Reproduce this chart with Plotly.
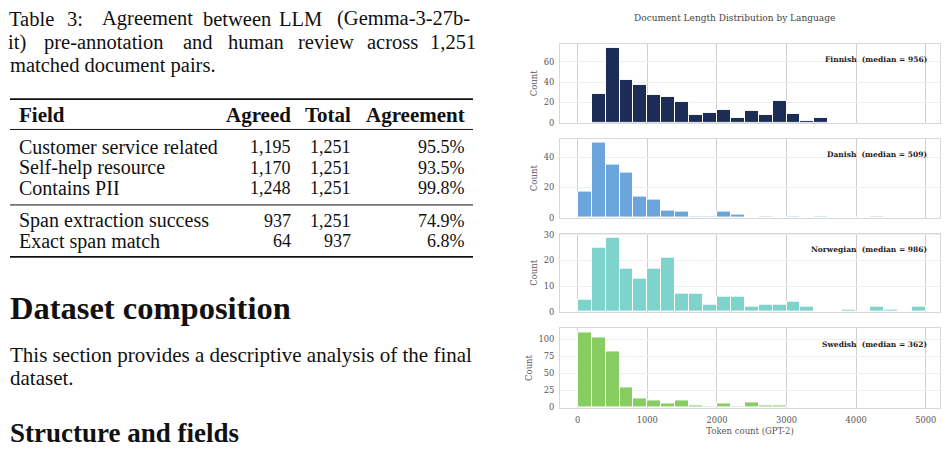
import plotly.graph_objects as go

W, H = 948, 454

# ---------------- data ----------------
languages = ["Finnish", "Danish", "Norwegian", "Swedish"]
medians = [956, 509, 986, 362]
bin_width = 200
finnish_counts = [0, 28, 74, 42, 37, 27, 25, 20, 8, 10, 13, 5, 12, 8, 21, 9, 2, 5]
danish_counts = [17, 50, 35, 30, 14, 12, 5, 4, 1, 1, 4, 2, 0, 1, 0, 1, 0, 1, 0, 0, 0, 1]
norwegian_counts = [5, 25, 29, 17, 13, 17, 21, 7, 7, 3, 6, 6, 2, 3, 3, 4, 2, 0, 0, 1, 0, 2, 1, 0, 2]
swedish_counts = [110, 102, 82, 30, 14, 11, 6, 11, 3, 1, 6, 2, 7, 3, 3]
all_counts = [finnish_counts, danish_counts, norwegian_counts, swedish_counts]
colors = ["#1b2d57", "#6aa6dc", "#7ed3cd", "#87cd62"]
y_ticks = [[0, 20, 40, 60], [0, 20, 40], [0, 10, 20, 30], [0, 25, 50, 75, 100]]
x_ticks = [0, 1000, 2000, 3000, 4000, 5000]

table_header = ["Field", "Agreed", "Total", "Agreement"]
table_fields = ["Customer service related", "Self-help resource", "Contains PII",
                "Span extraction success", "Exact span match"]
table_agreed = ["1,195", "1,170", "1,248", "937", "64"]
table_total = ["1,251", "1,251", "1,251", "1,251", "937"]
table_agreement = ["95.5%", "93.5%", "99.8%", "74.9%", "6.8%"]

caption_line1 = ["Table", "3:", "Agreement", "between", "LLM", "(Gemma-3-27b-"]
caption_line2 = ["it)", "pre-annotation", "and", "human", "review", "across", "1,251"]
caption_line3 = "matched document pairs."
heading1 = "Dataset composition"
body_lines = ["This section provides a descriptive analysis of the final", "dataset."]
heading2 = "Structure and fields"

# ---------------- layout geometry (pixels) ----------------
def px(x):
    return x / W

def py(y):
    return 1 - y / H

panel_tops = [40.7, 137.3, 234.3, 331.0]
panel_bottoms = [121.0, 218.0, 314.3, 411.7]
x_left, x_right = 560, 940

fig = go.Figure()
chart_font = "DejaVu Serif"
doc_font = "Liberation Serif"

for i, (lang, counts, col) in enumerate(zip(languages, all_counts, colors)):
    centers = [k * bin_width + bin_width / 2 for k in range(len(counts))]
    n = "" if i == 0 else str(i + 1)
    fig.add_trace(go.Bar(
        x=centers, y=counts, width=bin_width,
        marker=dict(color=col, line=dict(color="white", width=1)),
        xaxis="x" + n, yaxis="y" + n, showlegend=False,
    ))
    ymax = max(counts) * 1.05
    fig.layout["xaxis" + n] = dict(
        domain=[px(x_left), px(x_right)], anchor="y" + n,
        range=[-255, 5205], tickvals=x_ticks,
        showticklabels=(i == 3), showgrid=True, gridcolor="#cfcfcf", gridwidth=1,
        zeroline=False, showline=True, mirror=True, linecolor="#d8d8d8", linewidth=1,
        tickfont=dict(family=chart_font, size=8.3, color="#555"), ticks="",
        ticklabelstandoff=5,
        title=dict(text="Token count (GPT-2)" if i == 3 else "",
                   font=dict(family=chart_font, size=8.5, color="#555"), standoff=3),
        fixedrange=True,
    )
    fig.layout["yaxis" + n] = dict(
        domain=[py(panel_bottoms[i]), py(panel_tops[i])], anchor="x" + n,
        range=[0, ymax], tickvals=y_ticks[i],
        showgrid=True, gridcolor="#eeeeee", gridwidth=1, zeroline=False,
        showline=True, mirror=True, linecolor="#d8d8d8", linewidth=1,
        tickfont=dict(family=chart_font, size=8.3, color="#555"), ticks="",
        ticklabelstandoff=3,
        title=dict(text="Count", font=dict(family=chart_font, size=8.5, color="#555"), standoff=4),
        fixedrange=True,
    )
    fig.add_annotation(
        xref="paper", yref="paper", x=px(929), y=py(panel_tops[i] + 16),
        xanchor="right", yanchor="middle", showarrow=False,
        text=f"<b>{lang}  (median = {medians[i]})</b>",
        font=dict(family=chart_font, size=7.5, color="#222"),
    )

fig.add_annotation(xref="paper", yref="paper", x=px(734), y=py(14), xanchor="center",
                   yanchor="middle", showarrow=False,
                   text="Document Length Distribution by Language",
                   font=dict(family=chart_font, size=9, color="#444"))

# ---------------- left document text ----------------
def txt(x, y, s, size=21, anchor="left", bold=False):
    fig.add_annotation(xref="paper", yref="paper", x=px(x), y=py(y), xanchor=anchor,
                       yanchor="middle", showarrow=False,
                       text=f"<b>{s}</b>" if bold else s,
                       font=dict(family=doc_font, size=size, color="#111"))

# justified caption: each word centred where it sits in the justified line
line1_cx = [31.5, 75, 147.5, 237, 300, 403.5]
line2_cx = [17, 104, 197.5, 256, 325.5, 392.5, 452.5]
for w, x in zip(caption_line1, line1_cx):
    txt(x, 15, w, size=20.5, anchor="center")
for w, x in zip(caption_line2, line2_cx):
    txt(x, 39, w, size=20.5, anchor="center")
txt(8, 62.5, caption_line3, size=20.5)

def rule(y, w):
    fig.add_shape(type="line", xref="paper", yref="paper", x0=px(10), x1=px(473),
                  y0=py(y), y1=py(y), line=dict(color="#111", width=w))

rule(97, 1.8)
rule(128, 1)
rule(205, 1)
rule(258, 1.8)

hx = [(17, "left"), (293, "right"), (353, "right"), (467, "right")]
for (x, a), h in zip(hx, table_header):
    txt(x, 113, h, size=21, anchor=a, bold=True)

row_y = [146, 167, 188, 221, 242]
for j in range(len(table_fields)):
    txt(17, row_y[j], table_fields[j], size=20)
    txt(293, row_y[j], table_agreed[j], size=18, anchor="right")
    txt(353, row_y[j], table_total[j], size=18, anchor="right")
    txt(467, row_y[j], table_agreement[j], size=18, anchor="right")

txt(8, 310, heading1, size=32.5, bold=True)
for k, line in enumerate(body_lines):
    txt(8, 358 + k * 24, line, size=21)
txt(8, 438, heading2, size=27, bold=True)

fig.update_layout(width=W, height=H, margin=dict(l=0, r=0, t=0, b=0),
                  paper_bgcolor="white", plot_bgcolor="white", bargap=0)

fig.write_html("out.html")
